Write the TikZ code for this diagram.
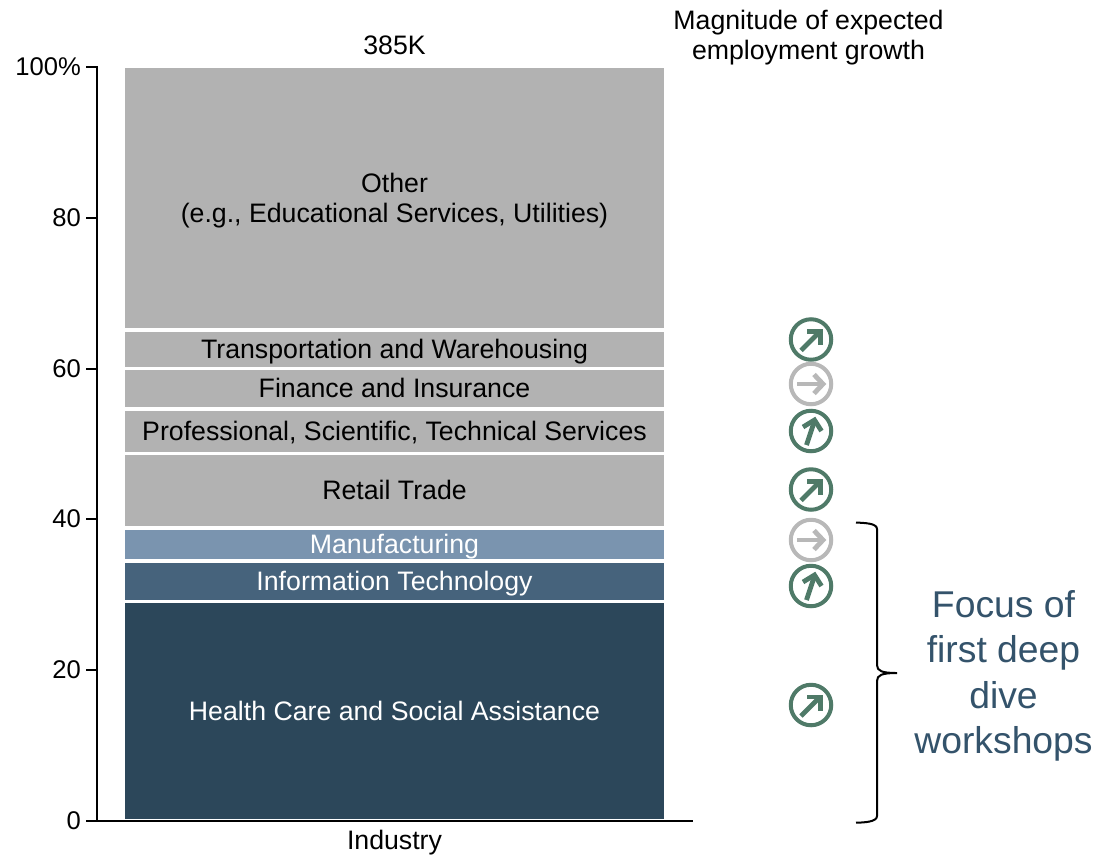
\documentclass[tikz,border=0pt]{standalone}
\usepackage{fontspec}
\setmainfont{Liberation Sans}
\definecolor{gbar}{HTML}{B2B2B2}
\definecolor{mbar}{HTML}{7A94AF}
\definecolor{ibar}{HTML}{46637C}
\definecolor{hbar}{HTML}{2C475A}
\definecolor{grn}{HTML}{4F7A68}
\definecolor{gry}{HTML}{B8B8B8}
\definecolor{foc}{HTML}{34536B}
\newcommand{\lf}{\fontsize{26.7}{30}\selectfont}
\tikzset{
 seg/.style={draw=none,inner sep=0pt,minimum width=539pt,align=center,text=black,font=\lf},
 lab/.style={inner sep=0pt,align=center,font=\lf},
 ax/.style={line width=2pt,black},
 circ/.style={circle,draw=#1,line width=4pt,minimum size=40.5pt,inner sep=0pt},
 arr/.style={draw=#1,line width=4.8pt},
 tick/.style={lab,anchor=east,font=\fontsize{25.6}{30}\selectfont},
}
\newcommand{\upright}[2]{\draw[arr=#2] ([shift={(-10pt,-11pt)}]#1.center) -- ([shift={(9pt,8pt)}]#1.center);
 \draw[arr=#2] ([shift={(-4pt,8pt)}]#1.center) -- ([shift={(9.5pt,8pt)}]#1.center) -- ([shift={(9.5pt,-5.5pt)}]#1.center);}
\newcommand{\mostlyup}[2]{\draw[arr=#2] ([shift={(-4.5pt,-14pt)}]#1.center) -- ([shift={(3.5pt,10pt)}]#1.center);
 \draw[arr=#2] ([shift={(-8pt,4pt)}]#1.center) -- ([shift={(3.5pt,11pt)}]#1.center) -- ([shift={(10.5pt,0pt)}]#1.center);}
\newcommand{\rightarr}[2]{\draw[arr=#2] ([shift={(-14pt,0pt)}]#1.center) -- ([shift={(11pt,0pt)}]#1.center);
 \draw[arr=#2] ([shift={(3pt,9.5pt)}]#1.center) -- ([shift={(12pt,0pt)}]#1.center) -- ([shift={(3pt,-9.5pt)}]#1.center);}
\begin{document}
\begin{tikzpicture}[x=1pt,y=-1pt]
\useasboundingbox[fill=white] (0,0) rectangle (1097,855);
% bars
\node[seg,fill=gbar,minimum height=260pt] (other) at (394.5,198) {};
\node[lab] (othert) at (394.5,201) {Other\\(e.g., Educational Services, Utilities)};
\node[seg,fill=gbar,minimum height=35pt] (trans) at (394.5,349.5) {};
\node[lab] (transt) at (394.5,352) {Transportation and Warehousing};
\node[seg,fill=gbar,minimum height=37pt] (fin) at (394.5,388.5) {};
\node[lab] (fint) at (394.5,388) {Finance and Insurance};
\node[seg,fill=gbar,minimum height=41pt] (prof) at (394.5,431.5) {};
\node[lab] (proft) at (394.5,433) {Professional, Scientific, Technical Services};
\node[seg,fill=gbar,minimum height=71pt] (ret) at (394.5,490.5) {};
\node[lab] (rett) at (394.5,490) {Retail Trade};
\node[seg,fill=mbar,minimum height=29pt] (man) at (394.5,544.5) {};
\node[lab,text=white] (mant) at (394.5,547) {Manufacturing};
\node[seg,fill=ibar,minimum height=37pt] (it) at (394.5,581.5) {};
\node[lab,text=white] (itt) at (394.5,584) {Information Technology};
\node[seg,fill=hbar,minimum height=216pt] (hc) at (394.5,711) {};
\node[lab,text=white] (hct) at (394.5,711) {Health Care and Social Assistance};
% axes
\coordinate (ytop) at (97,67);
\coordinate (ybot) at (97,821);
\coordinate (x0) at (86,821);
\coordinate (x1) at (693,821);
\coordinate (t100) at (86,67);
\coordinate (t80) at (86,218);
\coordinate (t60) at (86,369);
\coordinate (t40) at (86,519);
\coordinate (t20) at (86,670);
\draw[ax] (t100) -- (ytop) -- (ybot);
\draw[ax] (x0) -- (x1);
\coordinate (a80) at (97,218);\coordinate (a60) at (97,369);\coordinate (a40) at (97,519);\coordinate (a20) at (97,670);
\draw[ax] (t80) -- (a80); \draw[ax] (t60) -- (a60); \draw[ax] (t40) -- (a40); \draw[ax] (t20) -- (a20);
\node[tick] (l100) at (81,67) {100\%};
\node[tick] (l80) at (81,217.5) {80};
\node[tick] (l60) at (81,368.5) {60};
\node[tick] (l40) at (81,519) {40};
\node[tick] (l20) at (81,670) {20};
\node[tick] (l0) at (81,821) {0};
\node[lab] (tot) at (394.5,45) {385K};
\node[inner sep=0pt,font=\lf,anchor=base] (ind) at (394.5,849.3) {Industry};
\node[lab] (mag) at (808.5,37.5) {Magnitude of expected\\employment growth};
% circles
\node[circ=grn] (c1) at (811,339.5) {};
\node[circ=gry] (c2) at (811,384) {};
\node[circ=grn] (c3) at (811,431) {};
\node[circ=grn] (c4) at (811,489.5) {};
\node[circ=gry] (c5) at (811,540) {};
\node[circ=grn] (c6) at (811,586) {};
\node[circ=grn] (c7) at (811,705) {};
\upright{c1}{grn}
\rightarr{c2}{gry}
\mostlyup{c3}{grn}
\upright{c4}{grn}
\rightarr{c5}{gry}
\mostlyup{c6}{grn}
\upright{c7}{grn}
% brace
\coordinate (bt) at (856,522.5);
\coordinate (bb) at (856,822.7);
\coordinate (bm) at (897,673);
\draw[line width=2pt,black] (bt) .. controls (864,523) and (877,523) .. (877,529) -- (877,665) .. controls (877,671) and (882,673) .. (bm) .. controls (882,673) and (877,675) .. (877,681) -- (877,816) .. controls (877,822) and (864,822.5) .. (bb);
\node[lab,text=foc,font=\fontsize{37.3}{45.3}\selectfont] (focus) at (1003.5,676) {Focus of\\first deep\\dive\\workshops};
\end{tikzpicture}
\end{document}
